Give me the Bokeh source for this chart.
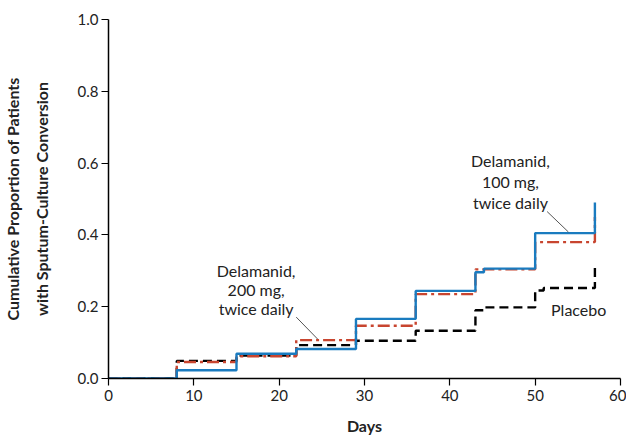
from bokeh.plotting import figure
from bokeh.models import Label, FixedTicker, PrintfTickFormatter, Range1d, Segment, ColumnDataSource
from bokeh.embed import file_html
from bokeh.resources import INLINE

# Data
days_100 = [0, 8, 15, 22, 29, 36, 43, 44, 50, 57]
prop_100 = [0.0, 0.023, 0.069, 0.082, 0.166, 0.244, 0.296, 0.306, 0.405, 0.49]
days_200 = [0, 8, 15, 22, 29, 36, 43, 50, 57]
prop_200 = [0.0, 0.046, 0.062, 0.107, 0.147, 0.235, 0.304, 0.380, 0.45]
days_pl = [0, 8, 15, 22, 29, 36, 43, 44, 50, 51, 57]
prop_pl = [0.0, 0.049, 0.064, 0.093, 0.105, 0.133, 0.190, 0.198, 0.245, 0.252, 0.31]
x_ticks = [0, 10, 20, 30, 40, 50, 60]
y_ticks = [0.0, 0.2, 0.4, 0.6, 0.8, 1.0]

FONT = "Lato"
TXT = "#222222"

p = figure(width=626, height=437, output_backend="svg", toolbar_location=None,
           x_range=Range1d(0, 60), y_range=Range1d(0, 1.0),
           min_border_left=106, min_border_right=6, min_border_top=19, min_border_bottom=56)
p.outline_line_color = None
p.grid.visible = False

p.step(days_pl, prop_pl, mode="after", line_color="black", line_width=2.4, line_dash="9 5")
p.step(days_200, prop_200, mode="after", line_color="#c8452f", line_width=2.4, line_dash="12 4 3 4")
p.step(days_100, prop_100, mode="after", line_color="#1a7bbf", line_width=2.4)

for ax in (p.xaxis[0], p.yaxis[0]):
    ax.axis_line_color = "black"
    ax.axis_line_width = 1.5
    ax.major_tick_line_color = "black"
    ax.major_tick_line_width = 1.2
    ax.major_tick_out = 7
    ax.major_tick_in = 0
    ax.minor_tick_line_color = None
    ax.major_label_text_font = FONT
    ax.major_label_text_font_size = "15px"
    ax.major_label_text_color = TXT

p.xaxis.ticker = FixedTicker(ticks=x_ticks)
p.yaxis.ticker = FixedTicker(ticks=y_ticks)
p.yaxis.formatter = PrintfTickFormatter(format="%.1f")
p.xaxis.major_label_standoff = 4
p.yaxis.major_label_standoff = 3

p.xaxis.axis_label = "Days"
p.xaxis.axis_label_text_font = FONT
p.xaxis.axis_label_text_font_style = "bold"
p.xaxis.axis_label_text_font_size = "16px"
p.xaxis.axis_label_text_color = TXT
p.xaxis.axis_label_standoff = 12

p.yaxis.axis_label = "Cumulative Proportion of Patients\nwith Sputum-Culture Conversion"
p.yaxis.axis_label_text_font = FONT
p.yaxis.axis_label_text_font_style = "bold"
p.yaxis.axis_label_text_font_size = "16px"
p.yaxis.axis_label_text_color = TXT
p.yaxis.axis_label_text_line_height = 1.5
p.yaxis.axis_label_standoff = 24

def multiline(x, y, lines, dy):
    for i, t in enumerate(lines):
        p.add_layout(Label(x=x, y=y - i * dy, text=t, text_align="center", text_baseline="middle",
                           text_font=FONT, text_font_size="16px", text_color=TXT))

multiline(17.3, 0.30, ["Delamanid,", "200 mg,", "twice daily"], 0.053)
multiline(47.1, 0.607, ["Delamanid,", "100 mg,", "twice daily"], 0.058)
multiline(55.1, 0.193, ["Placebo"], 0.05)

lead = ColumnDataSource(dict(x0=[22.0, 51.4], y0=[0.171, 0.465], x1=[24.5, 53.9], y1=[0.110, 0.408]))
p.add_glyph(lead, Segment(x0="x0", y0="y0", x1="x1", y1="y1", line_color="#555555", line_width=1))

open("out.html", "w").write(file_html(p, INLINE))
